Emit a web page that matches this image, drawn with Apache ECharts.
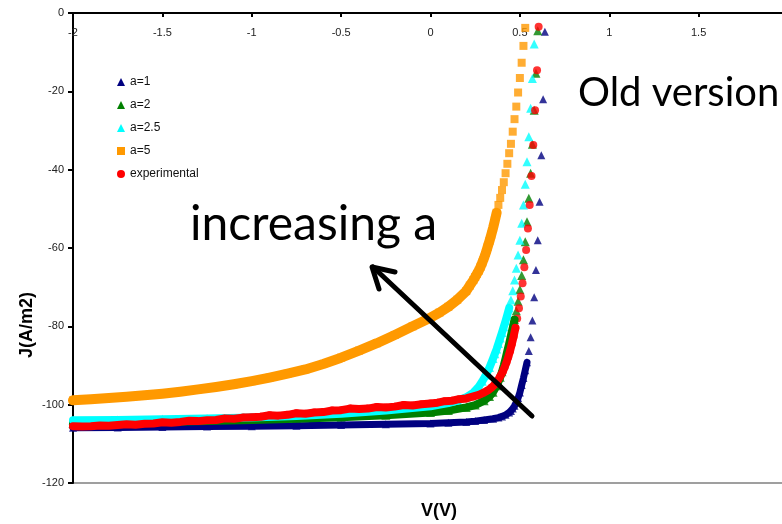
<!DOCTYPE html>
<html>
<head>
<meta charset="utf-8">
<script src="https://cdn.jsdelivr.net/npm/echarts@6/dist/echarts.min.js"></script>
<style>
  html, body { margin: 0; padding: 0; background: #fff; overflow: hidden; }
  #chart { width: 782px; height: 524px; }
</style>
</head>
<body>
<div id="chart"></div>
<script>
// J–V curves: simulated diode model for several ideality factors a, plus measurement.
// Each entry is [voltage (V), current density (A/m2)].

const seriesNames = ['a=1', 'a=2', 'a=2.5', 'a=5', 'experimental'];

const curveA1 = [
  [-2.0, -105.9], [-1.75, -105.8], [-1.5, -105.7], [-1.25, -105.6], [-1.0, -105.5],
  [-0.75, -105.4], [-0.5, -105.2], [-0.25, -105.0], [0.0, -104.8], [0.1, -104.6],
  [0.2, -104.4], [0.25, -104.2], [0.3, -103.9], [0.35, -103.6], [0.38, -103.3],
  [0.40, -103.0], [0.42, -102.6], [0.44, -102.0], [0.45, -101.6], [0.46, -101.0],
  [0.47, -100.3], [0.48, -99.4], [0.49, -98.3], [0.50, -96.9], [0.51, -95.0],
  [0.52, -93.2], [0.53, -91.2], [0.54, -89.2], [0.55, -86.3], [0.56, -82.8],
  [0.57, -78.5], [0.58, -72.6], [0.59, -65.6], [0.60, -58.0], [0.61, -48.2],
  [0.62, -36.3], [0.63, -22.0], [0.64, -4.8]
];

const curveA2 = [
  [-2.0, -104.8], [-1.75, -104.6], [-1.5, -104.4], [-1.25, -104.2], [-1.0, -103.9],
  [-0.75, -103.6], [-0.5, -103.2], [-0.25, -102.7], [0.0, -102.0], [0.1, -101.5],
  [0.2, -100.7], [0.25, -100.1], [0.30, -99.0], [0.33, -97.9], [0.35, -96.8],
  [0.37, -95.2], [0.38, -94.2], [0.39, -93.0], [0.40, -91.6], [0.41, -90.0],
  [0.42, -88.2], [0.43, -86.3], [0.44, -84.4], [0.45, -82.4], [0.46, -80.4],
  [0.47, -78.3], [0.48, -76.0], [0.49, -73.6], [0.50, -70.6], [0.51, -67.0],
  [0.52, -63.0], [0.53, -58.4], [0.54, -53.3], [0.55, -47.3], [0.56, -40.9],
  [0.57, -33.5], [0.58, -24.8], [0.59, -15.4], [0.60, -4.5]
];

const curveA25 = [
  [-2.0, -104.0], [-1.75, -103.9], [-1.5, -103.7], [-1.25, -103.5], [-1.0, -103.3],
  [-0.75, -102.9], [-0.5, -102.3], [-0.25, -101.5], [0.0, -100.4], [0.1, -99.6],
  [0.15, -99.0], [0.2, -98.1], [0.24, -96.9], [0.27, -95.4], [0.29, -94.0],
  [0.31, -92.4], [0.33, -90.5], [0.35, -88.2], [0.36, -87.0], [0.37, -85.8],
  [0.38, -84.4], [0.39, -83.0], [0.40, -81.6], [0.41, -80.1], [0.42, -78.6],
  [0.43, -77.0], [0.44, -75.3], [0.45, -73.3], [0.46, -70.9], [0.47, -68.2],
  [0.48, -65.2], [0.49, -61.8], [0.50, -58.0], [0.51, -53.7], [0.52, -49.0],
  [0.53, -43.7], [0.54, -38.0], [0.55, -31.6], [0.56, -24.3], [0.57, -16.7],
  [0.58, -7.9]
];

const curveA5 = [
  [-2.0, -98.9], [-1.9, -98.6], [-1.8, -98.3], [-1.7, -98.0], [-1.6, -97.6],
  [-1.5, -97.2], [-1.4, -96.7], [-1.3, -96.1], [-1.2, -95.5], [-1.1, -94.8],
  [-1.0, -94.0], [-0.9, -93.1], [-0.8, -92.1], [-0.7, -91.0], [-0.6, -89.6],
  [-0.5, -88.0], [-0.4, -86.2], [-0.3, -84.3], [-0.2, -82.2], [-0.1, -80.0],
  [0.0, -77.8], [0.05, -76.5], [0.10, -75.0], [0.15, -73.2], [0.20, -71.0],
  [0.22, -69.6], [0.24, -68.2], [0.25, -67.4], [0.26, -66.6], [0.27, -65.8],
  [0.28, -64.8], [0.29, -63.7], [0.30, -62.5], [0.31, -61.2], [0.32, -59.7],
  [0.33, -58.2], [0.34, -56.6], [0.35, -54.9], [0.36, -53.0], [0.37, -51.0],
  [0.38, -49.0], [0.39, -47.2], [0.40, -45.2], [0.41, -43.2], [0.42, -40.9],
  [0.43, -38.5], [0.44, -35.8], [0.45, -33.4], [0.46, -30.3], [0.47, -27.1],
  [0.48, -23.9], [0.49, -20.3], [0.50, -16.6], [0.51, -12.7], [0.52, -8.4],
  [0.53, -3.8]
];

const measured = [
  [-2.0, -105.5], [-1.95, -105.6], [-1.9, -105.5], [-1.85, -105.3], [-1.8, -105.4],
  [-1.75, -105.2], [-1.7, -105.0], [-1.65, -105.1], [-1.6, -104.9], [-1.55, -104.8],
  [-1.5, -104.5], [-1.45, -104.6], [-1.4, -104.4], [-1.35, -104.1], [-1.3, -104.2],
  [-1.25, -104.0], [-1.2, -103.9], [-1.15, -103.5], [-1.1, -103.6], [-1.05, -103.3],
  [-1.0, -103.2], [-0.95, -103.1], [-0.9, -102.7], [-0.85, -102.8], [-0.8, -102.6],
  [-0.75, -102.2], [-0.7, -102.3], [-0.65, -102.0], [-0.6, -101.9], [-0.55, -101.5],
  [-0.5, -101.4], [-0.45, -101.0], [-0.4, -101.1], [-0.35, -101.0], [-0.3, -100.6],
  [-0.25, -100.7], [-0.2, -100.5], [-0.15, -100.1], [-0.1, -100.2], [-0.05, -99.9],
  [0.0, -99.7], [0.04, -99.5], [0.08, -99.1], [0.12, -99.0], [0.16, -98.6],
  [0.20, -98.4], [0.24, -97.9], [0.27, -97.5], [0.30, -96.9], [0.32, -96.4],
  [0.34, -95.7], [0.36, -94.8], [0.375, -93.9], [0.39, -92.8], [0.405, -91.5],
  [0.415, -90.4], [0.425, -89.2], [0.435, -87.8], [0.445, -86.3], [0.455, -84.5],
  [0.465, -82.6], [0.475, -80.4], [0.485, -78.0], [0.495, -75.4], [0.505, -72.4],
  [0.515, -69.0], [0.525, -64.9], [0.535, -60.5], [0.545, -55.0], [0.555, -49.0],
  [0.565, -41.6], [0.575, -33.7], [0.585, -24.8], [0.596, -14.6], [0.605, -3.5]
];

// Axis ranges and tick spacing
const xRange = [-2, 2], xStep = 0.5;
const yRange = [-120, 0], yStep = 20;

const FONT = 'Liberation Sans, Arial, sans-serif';

// styling per curve: marker, size, colour, and the band that joins the densely packed part
const styles = [
  { data: curveA1,  symbol: 'triangle', size: 8, color: '#000080', band: 7,  cut: -88 },
  { data: curveA2,  symbol: 'triangle', size: 9, color: '#008000', band: 8,  cut: -78 },
  { data: curveA25, symbol: 'triangle', size: 9, color: '#00FFFF', band: 8,  cut: -74 },
  { data: curveA5,  symbol: 'rect',     size: 8, color: '#FF9900', band: 10, cut: -50 },
  { data: measured, symbol: 'circle',   size: 8, color: '#FF0000', band: 8,  cut: -80 }
];

const series = [];
styles.forEach((s, i) => {
  series.push({
    name: seriesNames[i],
    type: 'line',
    data: s.data.filter(p => p[1] < s.cut),
    symbol: 'none',
    silent: true,
    lineStyle: { color: s.color, width: s.band, cap: 'round', join: 'round' },
    itemStyle: { color: s.color }
  });
  series.push({
    name: seriesNames[i],
    type: 'scatter',
    data: s.data,
    symbol: s.symbol,
    symbolSize: s.size,
    itemStyle: { color: s.color }
  });
});

const chart = echarts.init(document.getElementById('chart'), null, { renderer: 'canvas' });

chart.setOption({
  animation: false,
  backgroundColor: '#ffffff',
  // plot area runs slightly past the right edge of the canvas, so x = 2 sits just outside
  grid: {
    left: 73, top: 13, width: 715, height: 470,
    outerBoundsMode: 'none',
    containLabel: false,
    show: true, borderColor: '#808080', borderWidth: 1.5, backgroundColor: 'transparent'
  },
  legend: {
    orient: 'vertical',
    left: 112, top: 71,
    itemWidth: 8, itemHeight: 8, itemGap: 11,
    textStyle: { fontFamily: FONT, fontSize: 12, color: '#111' },
    data: seriesNames.map((n, i) => ({ name: n, icon: styles[i].symbol }))
  },
  xAxis: {
    type: 'value', position: 'top',
    min: xRange[0], max: xRange[1], interval: xStep,
    axisLine: { onZero: false, lineStyle: { color: '#000', width: 2 } },
    axisTick: { inside: true, length: 4, lineStyle: { color: '#000', width: 2 } },
    axisLabel: { inside: true, margin: 14, fontFamily: FONT, fontSize: 11, color: '#222' },
    splitLine: { show: false }
  },
  yAxis: {
    type: 'value',
    min: yRange[0], max: yRange[1], interval: yStep,
    axisLine: { onZero: false, lineStyle: { color: '#000', width: 2 } },
    axisTick: { length: 5, lineStyle: { color: '#000', width: 2 } },
    axisLabel: { margin: 9, fontFamily: FONT, fontSize: 11, color: '#222' },
    splitLine: { show: false }
  },
  series: series,
  graphic: [
    { type: 'text', left: 421, top: 502,
      style: { text: 'V(V)', font: 'bold 18px ' + FONT, fill: '#000' } },
    { type: 'text', x: 27, y: 325, rotation: Math.PI / 2,
      style: { text: 'J(A/m2)', font: 'bold 18px ' + FONT, fill: '#000', align: 'center', verticalAlign: 'middle' } },
    { type: 'text', left: 578, top: 73,
      style: { text: 'Old version', font: '40px Lato, sans-serif', fill: '#000' } },
    { type: 'text', left: 190, top: 201,
      style: { text: 'increasing a', font: '48px Lato, sans-serif', fill: '#000' } },
    { type: 'polyline', z: 100,
      shape: { points: [[532, 416], [373, 267]] },
      style: { stroke: '#000', lineWidth: 5, lineCap: 'round', fill: null } },
    { type: 'polyline', z: 100,
      shape: { points: [[395, 272], [372, 267], [379, 289]] },
      style: { stroke: '#000', lineWidth: 5, lineCap: 'round', lineJoin: 'round', fill: null } }
  ]
});
</script>
</body>
</html>
